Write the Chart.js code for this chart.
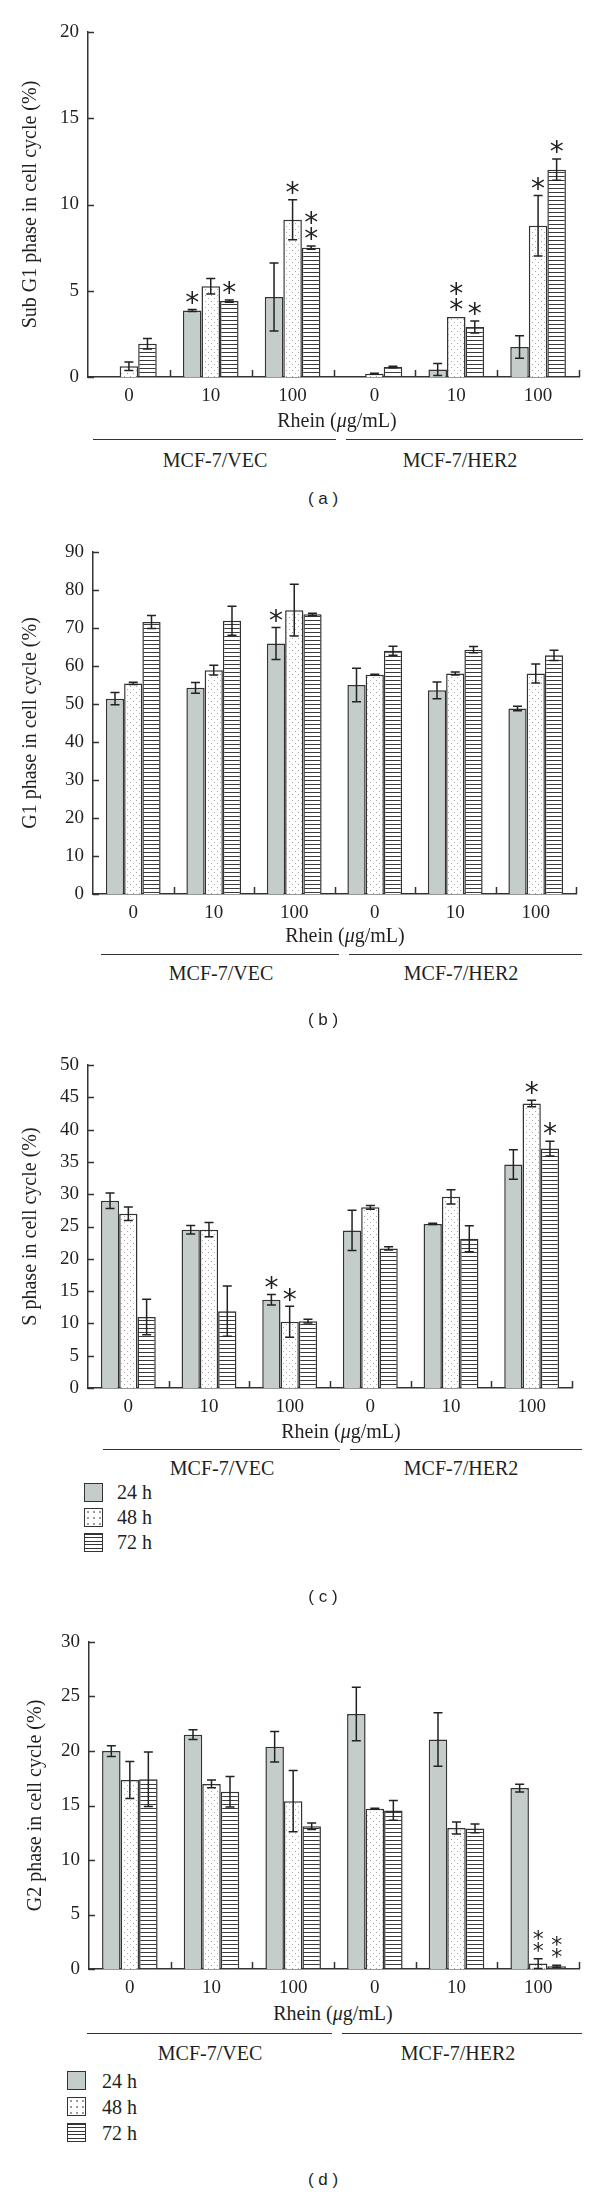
<!DOCTYPE html>
<html>
<head>
<meta charset="utf-8">
<script src="https://cdn.jsdelivr.net/npm/chart.js@4.4.0/dist/chart.umd.min.js"></script>
<style>
  body { margin: 0; width: 600px; height: 2204px; position: relative; background: #fff; overflow: hidden;
         font-family: "Liberation Serif", "Times New Roman", serif; color: #231f20; }
  canvas { position: absolute; left: 0; }
  .txt { position: absolute; white-space: nowrap; transform: translate(-50%, -50%); font-size: 20px; }
  .tag { position: absolute; white-space: nowrap; transform: translate(-50%, -50%);
         font-family: "Liberation Sans", Arial, sans-serif; font-size: 17px; }
  .gline { position: absolute; height: 0; border-top: 1.5px solid #333; }
  .sw { position: absolute; width: 17px; height: 17px; border: 1.5px solid #333; box-sizing: content-box; }
  .sw.gray { background: #c5cdca; }
  .sw.dots { background-color: #fff; background-image: radial-gradient(circle, #999 0.7px, transparent 1px); background-size: 6px 6px; }
  .sw.stripes { background: repeating-linear-gradient(to bottom, #333 0, #333 1px, #fff 1px, #fff 3.5px); }
  .lt { position: absolute; white-space: nowrap; transform: translateY(-50%); font-size: 20px; }
</style>
</head>
<body>

<canvas id="chartA" width="600" height="410" style="top:0px"></canvas>
<canvas id="chartB" width="600" height="410" style="top:520px"></canvas>
<canvas id="chartC" width="600" height="405" style="top:1020px"></canvas>
<canvas id="chartD" width="600" height="420" style="top:1580px"></canvas>

<div class="txt" style="left:337px;top:420px">Rhein (<i>μ</i>g/mL)</div>
<div class="gline" style="left:93px;width:243px;top:439px"></div>
<div class="gline" style="left:346px;width:237px;top:439px"></div>
<div class="txt" style="left:215px;top:460px">MCF-7/VEC</div>
<div class="txt" style="left:460px;top:460px">MCF-7/HER2</div>
<div class="tag" style="left:323px;top:499px">( a )</div>

<div class="txt" style="left:345px;top:935px">Rhein (<i>μ</i>g/mL)</div>
<div class="gline" style="left:101px;width:238px;top:954px"></div>
<div class="gline" style="left:349px;width:233px;top:954px"></div>
<div class="txt" style="left:221px;top:973px">MCF-7/VEC</div>
<div class="txt" style="left:461px;top:973px">MCF-7/HER2</div>
<div class="tag" style="left:323px;top:1020px">( b )</div>

<div class="txt" style="left:341px;top:1431px">Rhein (<i>μ</i>g/mL)</div>
<div class="gline" style="left:103px;width:237px;top:1449px"></div>
<div class="gline" style="left:350px;width:232px;top:1449px"></div>
<div class="txt" style="left:222px;top:1468px">MCF-7/VEC</div>
<div class="txt" style="left:461px;top:1468px">MCF-7/HER2</div>
<div class="sw gray" style="left:84px;top:1483px"></div>
<div class="sw dots" style="left:84px;top:1508px"></div>
<div class="sw stripes" style="left:84px;top:1533px"></div>
<div class="lt" style="left:117px;top:1492px">24 h</div>
<div class="lt" style="left:117px;top:1517px">48 h</div>
<div class="lt" style="left:117px;top:1542px">72 h</div>
<div class="tag" style="left:323px;top:1597px">( c )</div>

<div class="txt" style="left:333px;top:2013px">Rhein (<i>μ</i>g/mL)</div>
<div class="gline" style="left:87px;width:245px;top:2033px"></div>
<div class="gline" style="left:342px;width:240px;top:2033px"></div>
<div class="txt" style="left:210px;top:2053px">MCF-7/VEC</div>
<div class="txt" style="left:458px;top:2053px">MCF-7/HER2</div>
<div class="sw gray" style="left:67px;top:2071px"></div>
<div class="sw dots" style="left:67px;top:2097px"></div>
<div class="sw stripes" style="left:67px;top:2123px"></div>
<div class="lt" style="left:102px;top:2081px">24 h</div>
<div class="lt" style="left:102px;top:2107px">48 h</div>
<div class="lt" style="left:102px;top:2133px">72 h</div>
<div class="tag" style="left:323px;top:2180px">( d )</div>

<script>
// categories: Rhein dose, three for each cell line
const doses = ['0', '10', '100', '0', '10', '100'];
const timeLabels = ['24 h', '48 h', '72 h'];

// (a) Sub G1 phase (%)
const subG1_24h = [0, 3.86, 4.64, 0, 0.43, 1.74];
const subG1_24hErr = [0, 0.06, 1.97, 0, 0.35, 0.65];
const subG1_48h = [0.62, 5.26, 9.12, 0.19, 3.48, 8.77];
const subG1_48hErr = [0.25, 0.45, 1.16, 0.03, 0, 1.75];
const subG1_72h = [1.93, 4.4, 7.5, 0.58, 2.9, 12.02];
const subG1_72hErr = [0.3, 0.07, 0.1, 0.05, 0.35, 0.62];
const subG1_24hSig = [0, 1, 0, 0, 0, 0];
const subG1_48hSig = [0, 0, 1, 0, 2, 1];
const subG1_72hSig = [0, 1, 2, 0, 1, 1];

// (b) G1 phase (%)
const g1_24h = [51.4, 54.25, 65.9, 55.0, 53.6, 48.8];
const g1_24hErr = [1.6, 1.4, 4.2, 4.4, 2.2, 0.6];
const g1_48h = [55.4, 58.9, 74.7, 57.7, 58.0, 58.0];
const g1_48hErr = [0.3, 1.3, 6.8, 0.1, 0.4, 2.5];
const g1_72h = [71.6, 71.9, 73.6, 64.0, 64.3, 62.8];
const g1_72hErr = [1.7, 3.8, 0.3, 1.2, 0.8, 1.35];
const g1_24hSig = [0, 0, 1, 0, 0, 0];
const g1_48hSig = [0, 0, 0, 0, 0, 0];
const g1_72hSig = [0, 0, 0, 0, 0, 0];

// (c) S phase (%)
const s_24h = [28.97, 24.5, 13.66, 24.4, 25.4, 34.6];
const s_24hErr = [1.2, 0.65, 0.8, 3.1, 0.1, 2.3];
const s_48h = [26.98, 24.5, 10.24, 27.97, 29.6, 44.05];
const s_48hErr = [1.05, 1.1, 2.4, 0.3, 1.1, 0.5];
const s_72h = [11.0, 11.9, 10.35, 21.6, 23.1, 37.06];
const s_72hErr = [2.75, 3.9, 0.3, 0.25, 2.0, 1.15];
const s_24hSig = [0, 0, 1, 0, 0, 0];
const s_48hSig = [0, 0, 1, 0, 0, 1];
const s_72hSig = [0, 0, 0, 0, 0, 1];

// (d) G2 phase (%)
const g2_24h = [19.99, 21.5, 20.4, 23.4, 21.06, 16.6];
const g2_24hErr = [0.5, 0.45, 1.4, 2.45, 2.45, 0.35];
const g2_48h = [17.34, 16.98, 15.4, 14.7, 12.94, 0.5];
const g2_48hErr = [1.7, 0.35, 2.8, 0.05, 0.55, 0.45];
const g2_72h = [17.4, 16.27, 13.1, 14.55, 12.9, 0.25];
const g2_72hErr = [2.5, 1.4, 0.3, 0.9, 0.4, 0.1];
const g2_24hSig = [0, 0, 0, 0, 0, 0];
const g2_48hSig = [0, 0, 0, 0, 0, 2];
const g2_72hSig = [0, 0, 0, 0, 0, 2];

const INK = '#231f20';
const SERIF = '"Liberation Serif", "Times New Roman", serif';

// fill patterns for the 48 h (dots) and 72 h (stripes) bars
function dotPattern() {
  const c = document.createElement('canvas');
  c.width = 6; c.height = 6;
  const g = c.getContext('2d');
  g.fillStyle = '#fff'; g.fillRect(0, 0, 6, 6);
  g.fillStyle = '#a8a8a8';
  g.fillRect(1, 1, 1, 1);
  g.fillRect(4, 4, 1, 1);
  return g.createPattern(c, 'repeat');
}
function stripePattern() {
  const c = document.createElement('canvas');
  c.width = 4; c.height = 4;
  const g = c.getContext('2d');
  g.fillStyle = '#fff'; g.fillRect(0, 0, 4, 4);
  g.fillStyle = '#3a3a3a'; g.fillRect(0, 0, 4, 1);
  return g.createPattern(c, 'repeat');
}

// error bars, significance asterisks and inward axis ticks
const decorPlugin = {
  id: 'decor',
  afterDatasetsDraw(chart, args, opts) {
    const { ctx, scales: { y } } = chart;
    const starSize = opts.starSize || 24;
    const starGap = opts.starGap || 15;
    ctx.save();
    ctx.strokeStyle = '#222';
    ctx.lineWidth = 1.5;
    chart.data.datasets.forEach((ds, di) => {
      const meta = chart.getDatasetMeta(di);
      meta.data.forEach((bar, i) => {
        const v = ds.data[i];
        const e = ds.errors[i];
        if (!v) return;
        let top = y.getPixelForValue(v);
        if (e > 0) {
          const hi = y.getPixelForValue(v + e);
          const lo = y.getPixelForValue(Math.max(v - e, 0));
          ctx.beginPath();
          ctx.moveTo(bar.x, hi); ctx.lineTo(bar.x, lo);
          ctx.moveTo(bar.x - 4.5, hi); ctx.lineTo(bar.x + 4.5, hi);
          ctx.moveTo(bar.x - 4.5, lo); ctx.lineTo(bar.x + 4.5, lo);
          ctx.stroke();
          top = Math.min(top, hi);
        }
        const n = ds.sig[i];
        ctx.fillStyle = INK;
        ctx.font = starSize + 'px "DejaVu Sans", sans-serif';
        ctx.textAlign = 'center';
        ctx.textBaseline = 'middle';
        for (let k = 0; k < n; k++) {
          ctx.fillText('*', bar.x, top - 12 + starSize * 0.25 - k * starGap);
        }
      });
    });
    ctx.restore();
  },
  afterDraw(chart) {
    const { ctx, chartArea, scales: { x, y } } = chart;
    ctx.save();
    ctx.strokeStyle = '#333';
    ctx.lineWidth = 1.5;
    ctx.beginPath();
    y.ticks.forEach(t => {
      const py = Math.round(y.getPixelForValue(t.value)) + 0.5;
      ctx.moveTo(chartArea.left, py);
      ctx.lineTo(chartArea.left + 6, py);
    });
    for (let i = 0; i < doses.length; i++) {
      const next = i + 1 < doses.length ? x.getPixelForTick(i + 1) : 2 * x.getPixelForTick(i) - x.getPixelForTick(i - 1);
      const px = Math.round((x.getPixelForTick(i) + next) / 2) + 0.5;
      ctx.moveTo(px, chartArea.bottom);
      ctx.lineTo(px, chartArea.bottom - 7);
    }
    ctx.stroke();
    ctx.restore();
  }
};

function buildChart(id, yTitle, yMax, yStep, box, values, errors, sigs, star) {
  const fills = ['#c5cdca', dotPattern(), stripePattern()];
  const canvas = document.getElementById(id);
  return new Chart(canvas.getContext('2d'), {
    type: 'bar',
    data: {
      labels: doses,
      datasets: timeLabels.map((name, k) => ({
        label: name,
        data: values[k],
        errors: errors[k],
        sig: sigs[k],
        backgroundColor: fills[k],
        borderColor: '#333',
        borderWidth: 1.5,
        categoryPercentage: 0.68,
        barPercentage: 1.0
      }))
    },
    options: {
      responsive: false,
      animation: false,
      layout: { padding: { left: 0, top: box.top, right: 600 - box.right, bottom: 0 } },
      plugins: {
        legend: { display: false },
        tooltip: { enabled: false },
        decor: star
      },
      scales: {
        x: {
          grid: { display: false, drawTicks: false },
          border: { display: true, color: '#333', width: 1.5 },
          ticks: { color: INK, font: { family: SERIF, size: 19 }, padding: 8, maxRotation: 0 },
          afterFit: s => { s.height = canvas.height - box.bottom; }
        },
        y: {
          min: 0,
          max: yMax,
          grid: { display: false, drawTicks: false },
          border: { display: true, color: '#333', width: 1.5 },
          ticks: { stepSize: yStep, color: INK, font: { family: SERIF, size: 19 }, padding: 9 },
          title: { display: true, text: yTitle, color: INK, font: { family: SERIF, size: 20 }, padding: { top: box.titlePad, bottom: 0 } },
          afterFit: s => { s.width = box.left; }
        }
      }
    },
    plugins: [decorPlugin]
  });
}

buildChart('chartA', 'Sub G1 phase in cell cycle (%)', 20, 5,
  { left: 88, right: 579, top: 32, bottom: 377, titlePad: 19 },
  [subG1_24h, subG1_48h, subG1_72h], [subG1_24hErr, subG1_48hErr, subG1_72hErr],
  [subG1_24hSig, subG1_48hSig, subG1_72hSig], { starSize: 28, starGap: 16 });

buildChart('chartB', 'G1 phase in cell cycle (%)', 90, 10,
  { left: 93, right: 576, top: 32, bottom: 374, titlePad: 19 },
  [g1_24h, g1_48h, g1_72h], [g1_24hErr, g1_48hErr, g1_72hErr],
  [g1_24hSig, g1_48hSig, g1_72hSig], { starSize: 28, starGap: 16 });

buildChart('chartC', 'S phase in cell cycle (%)', 50, 5,
  { left: 88, right: 572, top: 45, bottom: 368, titlePad: 19 },
  [s_24h, s_48h, s_72h], [s_24hErr, s_48hErr, s_72hErr],
  [s_24hSig, s_48hSig, s_72hSig], { starSize: 28, starGap: 16 });

buildChart('chartD', 'G2 phase in cell cycle (%)', 30, 5,
  { left: 89, right: 579, top: 62, bottom: 389, titlePad: 24 },
  [g2_24h, g2_48h, g2_72h], [g2_24hErr, g2_48hErr, g2_72hErr],
  [g2_24hSig, g2_48hSig, g2_72hSig], { starSize: 22, starGap: 12 });
</script>
</body>
</html>
